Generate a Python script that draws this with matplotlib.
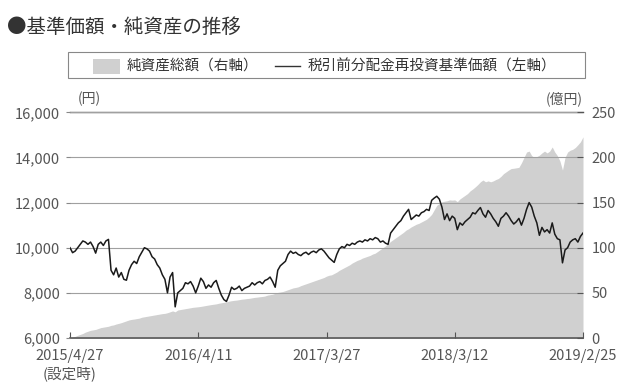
import matplotlib
matplotlib.use("Agg")
import matplotlib.pyplot as plt
import matplotlib.ticker as mticker
from matplotlib.patches import Rectangle
from matplotlib.lines import Line2D
import pandas as pd

plt.rcParams['font.family'] = ['Noto Sans CJK JP', 'DejaVu Sans']

# ---- data (weekly, 2015/4/27 - 2019/2/25) ----
start_date = "2015-04-27"
nav = [10000, 9780, 9850, 10000, 10150, 10300, 10250, 10150, 10250, 10050,
       9760, 10150, 10250, 10100, 10300, 10370, 9000, 8800, 9100, 8700,
       8900, 8600, 8560, 9000, 9250, 9400, 9300, 9600, 9800, 10000,
       9950, 9850, 9600, 9500, 9250, 9100, 8800, 8600, 8000, 8700,
       8900, 7380, 8000, 8100, 8200, 8450, 8400, 8500, 8300, 8000,
       8300, 8650, 8500, 8200, 8350, 8250, 8450, 8550, 8200, 7900,
       7700, 7620, 7900, 8250, 8150, 8200, 8300, 8100, 8200, 8250,
       8300, 8450, 8350, 8450, 8500, 8400, 8550, 8600, 8700, 8500,
       8250, 9000, 9200, 9300, 9400, 9700, 9850, 9750, 9800, 9700,
       9650, 9750, 9800, 9700, 9800, 9850, 9780, 9900, 9950, 9850,
       9700, 9550, 9450, 9350, 9700, 9950, 10050, 10000, 10150, 10100,
       10200, 10150, 10250, 10300, 10250, 10350, 10300, 10400, 10350, 10450,
       10400, 10250, 10300, 10200, 10150, 10650, 10800, 10950, 11100, 11200,
       11400, 11550, 11700, 11250, 11350, 11450, 11400, 11550, 11600, 11700,
       11650, 12100, 12200, 12280, 12150, 11800, 11250, 11500, 11200, 11400,
       11300, 10800, 11100, 11000, 11150, 11250, 11350, 11550, 11500, 11650,
       11780, 11500, 11350, 11650, 11500, 11300, 11150, 10950, 11300, 11400,
       11550, 11400, 11200, 11050, 11150, 11300, 11000, 11300, 11700, 12000,
       11800, 11400, 11100, 10550, 10900, 10700, 10800, 10650, 11100, 10600,
       10400, 10350, 9330, 9900, 10000, 10250, 10350, 10400, 10250, 10500,
       10650]
aum = [0, 0.8, 1.8, 3, 4, 5, 6.5, 7.5, 8.5, 9,
       9.5, 10.5, 11.5, 12, 12.5, 13, 14, 14.5, 15.5, 16.2,
       17, 18, 19, 20, 20.6, 21, 21.5, 22, 23, 23.5,
       24, 24.5, 25, 25.5, 26, 26.5, 27, 27.3, 28, 29,
       30, 29, 31, 31.5, 32, 32.5, 33, 33.5, 34, 34.3,
       34.6, 35, 35.5, 36, 36.5, 37, 37.4, 37.8, 38.5, 39,
       39.5, 40, 40.8, 41.3, 41.7, 42, 42.5, 43, 43.3, 43.7,
       44, 44.5, 45, 45.3, 45.7, 46, 46.5, 47.5, 48, 48.5,
       49.5, 50.5, 51, 51.5, 52.5, 53.5, 54.5, 55.5, 56, 56.7,
       58, 59, 60, 61, 62, 63, 64, 65, 66, 67,
       68.5, 69.5, 70, 71.5, 73, 75, 76.5, 78, 79.5, 81,
       83, 84.5, 86, 87, 88.5, 89.5, 90.5, 91.5, 93, 94,
       96, 98, 100, 102, 104.5, 107, 109, 111, 113, 115,
       117, 119.5, 121, 123, 124.5, 126, 127, 128.5, 130, 131.5,
       134, 137, 142, 147, 149, 150.8, 151.5, 152, 153, 152.7,
       153, 151, 154, 156, 158, 160, 163, 165, 167.4, 170,
       173, 175, 173, 174, 173, 174, 175.5, 176.7, 179, 182,
       184, 186, 187.7, 188, 188.5, 189, 194, 200, 206, 207,
       202, 200, 201, 202.5, 205, 207, 205, 207, 211.6, 206,
       202, 196, 186, 200, 206, 208, 209, 211, 214, 217.3,
       222.8]
xtick_dates = ["2015-04-27", "2016-04-11", "2017-03-27", "2018-03-12", "2019-02-25"]
xtick_labels = ["2015/4/27\n(設定時)", "2016/4/11", "2017/3/27", "2018/3/12", "2019/2/25"]
left_ticks = [6000, 8000, 10000, 12000, 14000, 16000]
right_ticks = [0, 50, 100, 150, 200, 250]

dates = pd.date_range(start_date, periods=len(nav), freq="7D")

TXT = "#555555"
fig = plt.figure(figsize=(6.28, 3.88), dpi=100)
ax = fig.add_axes([70/628, 1-338/388, 513/628, (338-112.3)/388])
ax2 = ax.twinx()

# area (right axis values) on the first axes
ax.fill_between(dates, aum, 0, color="#d0d0d0", linewidth=0, zorder=1)
ax.set_ylim(0, 250)
ax.set_yticks(right_ticks)
ax.yaxis.tick_right()
ax.set_axisbelow(False)
ax.grid(axis="y", color="#a0a0a0", linewidth=0.8, zorder=2.5)
ax.tick_params(axis="y", direction="in", length=4, color="#555555",
               labelcolor=TXT, labelsize=10.5, pad=6)

# line (left axis values)
ax2.plot(dates, nav, color="#1a1a1a", linewidth=1.1, zorder=3)
ax2.set_ylim(6000, 16000)
ax2.set_yticks(left_ticks)
ax2.yaxis.tick_left()
ax2.yaxis.set_major_formatter(mticker.FuncFormatter(lambda v, p: f"{int(v):,}"))
ax2.tick_params(axis="y", direction="out", length=3, color="#888888",
                labelcolor=TXT, labelsize=10.5, pad=4)

ax.set_xlim(dates[0], dates[-1])
for a in (ax, ax2):
    for s in ("left", "right", "top", "bottom"):
        a.spines[s].set_visible(False)
ax.spines["top"].set_visible(True)
ax.spines["top"].set_color("#555555")
ax.spines["top"].set_linewidth(1.0)
ax.spines["bottom"].set_visible(True)
ax.spines["bottom"].set_color("#555555")
ax.spines["bottom"].set_linewidth(1.2)

ax.set_xticks(pd.to_datetime(xtick_dates))
ax.set_xticklabels(xtick_labels, linespacing=1.25)
ax.tick_params(axis="x", direction="in", length=4, color="#555555",
               labelcolor=TXT, labelsize=10.5, pad=8)

# unit labels
fig.text(78/628, 1-99/388, "(円)", fontsize=10, color=TXT, va="center", ha="left")
fig.text(583/628, 1-99/388, "(億円)", fontsize=10, color=TXT, va="center", ha="right")

# title
fig.text(7/628, 1-27/388, "●基準価額・純資産の推移", fontsize=14, color="#333333",
         va="center", ha="left")

# legend box (manual)
fig.patches.append(Rectangle((68/628, 1-78/388), (585-68)/628, 26/388,
                             transform=fig.transFigure, facecolor="white",
                             edgecolor="#888888", linewidth=0.8))
fig.patches.append(Rectangle((93/628, 1-74/388), 27/628, 15/388,
                             transform=fig.transFigure, facecolor="#d0d0d0",
                             edgecolor="none"))
fig.text(127/628, 1-66/388, "純資産総額（右軸）", fontsize=10.5, color="#333333",
         va="center", ha="left")
fig.lines.append(Line2D([275/628, 300/628], [1-66/388, 1-66/388],
                        transform=fig.transFigure, color="#333333", linewidth=1.0))
fig.text(308/628, 1-66/388, "税引前分配金再投資基準価額（左軸）", fontsize=10.5,
         color="#333333", va="center", ha="left")

fig.savefig("out.png", dpi=100)
